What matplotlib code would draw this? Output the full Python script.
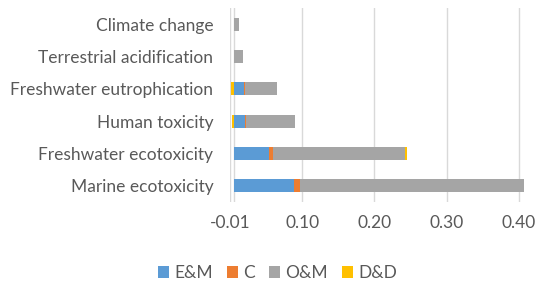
import matplotlib
matplotlib.use("Agg")
import matplotlib.pyplot as plt
import numpy as np

plt.rcParams['font.family'] = ['Lato', 'DejaVu Sans']

categories = ["Marine ecotoxicity", "Freshwater ecotoxicity", "Human toxicity",
              "Freshwater eutrophication", "Terrestrial acidification", "Climate change"]
series = ["E&M", "C", "O&M", "D&D"]
em = [0.0837, 0.0493, 0.0157, 0.0139, 0.0004, 0.0002]
c = [0.0079, 0.0055, 0.0010, 0.0015, 0.0002, 0.0001]
om = [0.3100, 0.1830, 0.0690, 0.0446, 0.0124, 0.0075]
dd = [0.0003, 0.0018, -0.0020, -0.0038, 0.0000, 0.0000]
tick_values = [-0.005, 0.095, 0.195, 0.295, 0.395]
tick_labels = ["-0.01", "0.10", "0.20", "0.30", "0.40"]

colors = ["#5B9BD5", "#ED7D31", "#A5A5A5", "#FFC000"]

fig = plt.figure(figsize=(5.37, 2.84), dpi=100)
ax = fig.add_axes([230/537, 1-202/284, (526-230)/537, (202-8)/284])

y = np.arange(len(categories))
h = 0.4
pos = np.zeros(len(categories))
neg = np.zeros(len(categories))
for vals, col, name in zip([em, c, om, dd], colors, series):
    v = np.array(vals)
    left = np.where(v >= 0, pos, neg)
    ax.barh(y, v, left=left, height=h, color=col, label=name, zorder=3)
    pos = pos + np.where(v >= 0, v, 0)
    neg = neg + np.where(v < 0, v, 0)

ax.set_xlim(-0.005, 0.405)
ax.set_ylim(-0.5, len(categories) - 0.5)
ax.set_xticks(tick_values)
ax.set_xticklabels(tick_labels)
ax.set_yticks(y)
ax.set_yticklabels(categories)
ax.grid(axis='x', color='#D9D9D9', linewidth=1, zorder=0)
ax.axvline(0, color='#D9D9D9', linewidth=1, zorder=1)
for s in ax.spines.values():
    s.set_visible(False)
ax.tick_params(axis='both', length=0, colors='#595959', labelsize=12.5)
ax.tick_params(axis='y', pad=12)
ax.tick_params(axis='x', pad=9)

handles, labels = ax.get_legend_handles_labels()
fig.legend(handles, labels, loc='center', bbox_to_anchor=(0.517, 1-273/284), ncol=4,
           frameon=False, fontsize=12.5, handlelength=0.65, handleheight=0.65,
           handletextpad=0.3, columnspacing=0.8, labelcolor='#595959')

fig.savefig("out.png", dpi=100)
